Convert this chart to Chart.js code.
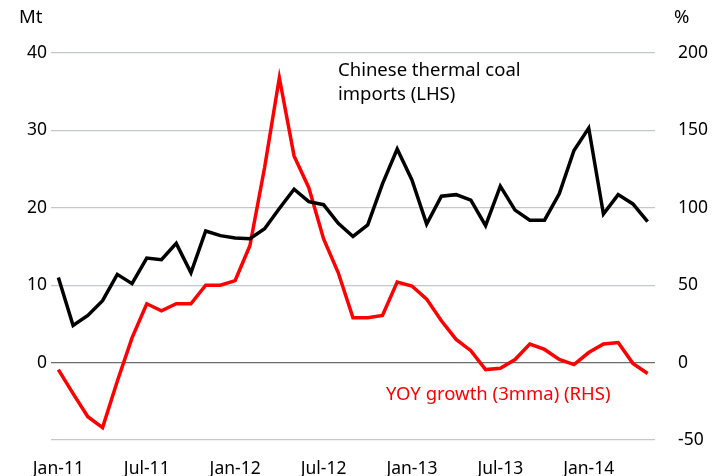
<!DOCTYPE html>
<html>
<head>
<meta charset="utf-8">
<script src="https://cdn.jsdelivr.net/npm/chart.js@4"></script>
<style>
  html, body { margin: 0; padding: 0; background: #fff; }
  #wrap { width: 715px; height: 476px; position: relative; }
</style>
</head>
<body>
<div id="wrap"><canvas id="myChart"></canvas></div>
<script>
const months = [
  'Jan-11','Feb-11','Mar-11','Apr-11','May-11','Jun-11','Jul-11','Aug-11','Sep-11','Oct-11','Nov-11','Dec-11',
  'Jan-12','Feb-12','Mar-12','Apr-12','May-12','Jun-12','Jul-12','Aug-12','Sep-12','Oct-12','Nov-12','Dec-12',
  'Jan-13','Feb-13','Mar-13','Apr-13','May-13','Jun-13','Jul-13','Aug-13','Sep-13','Oct-13','Nov-13','Dec-13',
  'Jan-14','Feb-14','Mar-14','Apr-14','May-14'
];
const shownLabels = ['Jan-11','Jul-11','Jan-12','Jul-12','Jan-13','Jul-13','Jan-14'];

// Mt, left axis
const imports = [
  11.0, 4.8, 6.1, 8.0, 11.4, 10.2, 13.5, 13.3, 15.4, 11.6, 17.0, 16.4,
  16.1, 16.0, 17.3, 19.9, 22.4, 20.8, 20.4, 18.0, 16.3, 17.8, 23.1, 27.6,
  23.6, 17.9, 21.5, 21.7, 21.0, 17.7, 22.8, 19.7, 18.4, 18.4, 21.8, 27.4,
  30.3, 19.2, 21.7, 20.5, 18.2
];
// %, right axis
const yoyGrowth = [
  -4.5, -20, -35, -42, -12, 16, 38, 33.5, 38, 38, 50, 50,
  53, 75.5, 126, 184, 133.5, 113, 80, 58, 29, 29, 30.5, 52,
  49.5, 41, 27, 15, 7.7, -4.5, -3.7, 2, 12, 8.5, 2, -1.3,
  6.5, 12, 13, -0.5, -7
];

const leftTicks = [40, 30, 20, 10, 0];
const rightTicks = [200, 150, 100, 50, 0, -50];

const font = "'Noto Sans', 'Open Sans', sans-serif";

const notes = {
  id: 'notes',
  afterDraw(chart) {
    const c = chart.ctx;
    c.save();
    c.font = '18.5px ' + font;
    c.textBaseline = 'middle';
    c.fillStyle = '#000';
    c.textAlign = 'left';
    c.fillText('Mt', 19, 18);
    c.fillText('%', 674, 18);
    c.fillText('Chinese thermal coal', 338, 71);
    c.fillText('imports (LHS)', 338, 95);
    c.fillStyle = '#ff0000';
    c.fillText('YOY growth (3mma) (RHS)', 386, 395);
    c.restore();
  }
};

new Chart(document.getElementById('myChart'), {
  type: 'line',
  data: {
    labels: months,
    datasets: [{
      label: 'Chinese thermal coal imports (LHS)',
      data: imports,
      yAxisID: 'y',
      borderColor: '#000000',
      backgroundColor: '#000000',
      borderWidth: 3.5,
      pointRadius: 0,
      tension: 0
    }, {
      label: 'YOY growth (3mma) (RHS)',
      data: yoyGrowth,
      yAxisID: 'y1',
      borderColor: '#ff0000',
      backgroundColor: '#ff0000',
      borderWidth: 3.5,
      pointRadius: 0,
      tension: 0
    }]
  },
  options: {
    responsive: true,
    maintainAspectRatio: false,
    animation: false,
    layout: { padding: { top: 53, bottom: 0, left: 0, right: 0 } },
    plugins: { legend: { display: false }, tooltip: { enabled: false } },
    scales: {
      x: {
        offset: true,
        grid: { display: false },
        border: { display: false },
        ticks: {
          autoSkip: false,
          maxRotation: 0,
          padding: 11,
          color: '#000',
          font: { family: font, size: 17.5 },
          callback: function(v) {
            const l = months[v];
            return shownLabels.includes(l) ? l : '';
          }
        },
        afterFit: function(s) { s.height = 36; }
      },
      y: {
        position: 'left',
        min: -10,
        max: 40,
        border: { display: false },
        grid: {
          drawTicks: false,
          lineWidth: 1.2,
          color: function(c) { return c.tick.value === 0 ? '#6e6e6e' : '#c4c8cc'; }
        },
        ticks: {
          stepSize: 10,
          padding: 4,
          color: '#000',
          font: { family: font, size: 17.5 },
          callback: function(v) { return leftTicks.includes(v) ? v : ''; }
        },
        afterFit: function(s) { s.width = 51; }
      },
      y1: {
        position: 'right',
        min: -50,
        max: 200,
        border: { display: false },
        grid: { display: false, drawOnChartArea: false },
        ticks: {
          stepSize: 50,
          padding: 15,
          color: '#000',
          font: { family: font, size: 17.5 },
          callback: function(v) { return rightTicks.includes(v) ? v : ''; }
        },
        afterFit: function(s) { s.width = 60; }
      }
    }
  },
  plugins: [notes]
});
</script>
</body>
</html>
